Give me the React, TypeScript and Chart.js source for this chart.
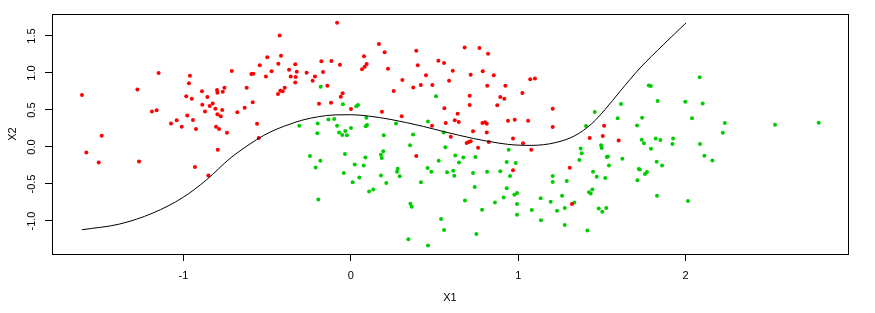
import React, { useEffect, useRef } from "react";
import { Chart, registerables } from "chart.js";

Chart.register(...registerables);

// Class 1 (red) observations
const redX = [
  -1.606, -1.148, -1.275, -1.188, -1.160, -1.074, -1.040, -1.488, -1.580, -1.506, -1.265,
  -0.425, -0.417, -0.499, -0.433, -0.544, -0.711, -0.369, -0.473, -0.507, -0.961, -0.967,
  -0.594, -0.582, -0.622, -0.755, -0.799, -0.797, -0.765, -0.889, -0.983, -0.950, -0.857,
  -0.395, -0.421, -0.407, -0.435, -0.887, -0.825, -0.843, -0.809, -0.768, -0.871, -0.797,
  -0.777, -0.586, -0.634, -0.678, -0.977, -0.943, -1.010, -0.925, -0.805, -0.787, -0.740,
  -0.560, -0.550, -0.795, -0.931, -0.851,
  -0.082, 0.168, 0.202, 0.079, 0.095, 0.083, 0.067, 0.222, -0.176, -0.116, -0.065, -0.332,
  -0.323, -0.359, -0.329, -0.332, -0.264, -0.214, -0.228, -0.166, -0.140, -0.049, -0.060,
  -0.118, -0.190, 0.001, 0.186, 0.256,
  0.391, 0.680, 0.768, 0.820, 0.523, 0.557, 0.400, 0.609, 0.716, 0.788, 0.854, 0.308,
  0.449, 0.418, 0.487, 0.373, 0.587, 0.815, 0.710, 0.710, 0.875, 0.559, 0.638, 0.304,
  0.567, 0.485, 0.621, 0.645, 0.786, 0.802, 0.812, 0.730, 0.812, 0.597, 0.716, 0.704,
  0.692, 0.824, 0.760, 0.391,
  1.072, 1.100, 0.923, 0.893, 0.917, 1.025, 1.206, 0.939, 0.979, 1.059, 1.206, 0.969,
  1.029, 1.078, 0.969, 1.308, 1.321, 1.427,
  1.513, 1.505, 1.600,
];
const redY = [
  0.703, 1.000, 0.778, 0.481, 0.495, 0.319, 0.360, 0.153, -0.073, -0.208, -0.195,
  1.508, 1.234, 1.211, 1.126, 1.103, 1.027, 1.045, 1.022, 0.954, 0.964, 0.860,
  0.986, 0.991, 0.801, 0.801, 0.770, 0.734, 0.747, 0.752, 0.684, 0.653, 0.676,
  0.801, 0.761, 0.752, 0.716, 0.572, 0.589, 0.554, 0.518, 0.500, 0.481, 0.441,
  0.414, 0.603, 0.531, 0.468, 0.427, 0.365, 0.274, 0.243, 0.274, 0.243, 0.193,
  0.315, 0.122, -0.036, -0.270, -0.384,
  1.680, 1.392, 1.279, 1.225, 1.121, 1.085, 1.049, 1.058, 1.157, 1.162, 1.112, 1.117,
  1.018, 0.954, 0.946, 0.873, 1.004, 0.954, 0.896, 1.014, 0.828, 0.725, 0.680,
  0.599, 0.585, 0.514, 0.477, 0.757,
  1.301, 1.346, 1.338, 1.261, 1.166, 1.135, 1.103, 1.031, 0.977, 1.022, 0.968, 0.905,
  0.968, 0.838, 0.838, 0.805, 0.896, 0.828, 0.693, 0.567, 0.563, 0.522, 0.450, 0.414,
  0.324, 0.288, 0.360, 0.338, 0.324, 0.333, 0.315, 0.211, 0.197, 0.139, 0.076, 0.068,
  0.054, 0.068, -0.009, -0.122,
  0.914, 0.927, 0.828, 0.676, 0.653, 0.730, 0.518, 0.355, 0.369, 0.355, 0.270, 0.116,
  0.049, -0.036, -0.316, -0.280, -0.770, 0.122,
  0.288, 0.149, 0.089,
];

// Class 2 (green) observations
const greenX = [
  -0.180, -0.047, 0.033, 0.043, 0.093, 0.097, 0.089, 0.197, -0.308, -0.198, -0.134, -0.099,
  -0.082, -0.200, -0.070, -0.033, 0.001, -0.051, -0.023, -0.244, -0.182, -0.210, -0.035,
  0.023, 0.077, 0.087, 0.194, 0.180, 0.185, -0.042, 0.051, 0.011, 0.180, 0.212, 0.134,
  0.109, -0.194,
  0.509, 0.270, 0.461, 0.555, 0.372, 0.354, 0.565, 0.525, 0.624, 0.672, 0.646, 0.744,
  0.459, 0.481, 0.575, 0.612, 0.618, 0.730, 0.814, 0.280, 0.276, 0.292, 0.419, 0.740,
  0.682, 0.784, 0.861, 0.356, 0.364, 0.539, 0.557, 0.750, 0.344, 0.461,
  1.457, 1.405, 0.943, 1.373, 1.379, 1.365, 0.931, 0.985, 0.893, 0.951, 1.206, 1.206,
  1.290, 1.447, 1.469, 0.931, 1.443, 1.423, 1.433, 0.993, 0.977, 0.913, 1.262, 1.134,
  1.194, 1.335, 0.993, 1.081, 1.232, 1.278, 1.481, 0.993, 1.136, 1.278, 1.413,
  2.084, 1.780, 1.792, 1.614, 1.833, 1.998, 2.102, 1.594, 1.740, 2.038, 1.710, 1.495,
  1.499, 1.738, 1.751, 1.821, 1.849, 1.925, 1.921, 1.793, 2.086, 2.112, 1.529, 1.536,
  1.622, 1.542, 1.827, 1.859, 1.720, 1.726, 1.769, 1.757, 1.712, 1.520, 1.829, 2.014,
  1.526, 1.502,
  2.234, 2.222, 2.534, 2.795, 2.160,
];
const greenY = [
  0.815, 0.576, 0.549, 0.567, 0.396, 0.297, 0.279, 0.157, 0.288, 0.319, 0.373, 0.378,
  0.288, 0.184, 0.197, 0.216, 0.257, 0.162, 0.157, -0.122, -0.185, -0.276, -0.095,
  -0.235, -0.249, -0.141, -0.059, -0.104, -0.149, -0.351, -0.411, -0.478, -0.384, -0.487, -0.573,
  -0.600, -0.708,
  0.684, 0.319, 0.346, 0.197, 0.170, 0.022, -0.005, -0.185, -0.114, -0.141, -0.208, -0.135,
  -0.284, -0.334, -0.343, -0.320, -0.388, -0.351, -0.334, -0.293, -0.334, -0.397, -0.478, -0.541,
  -0.722, -0.847, -0.749, -0.766, -0.807, -0.973, -1.122, -1.176, -1.248, -1.330,
  0.473, 0.284, -0.036, -0.019, -0.086, -0.176, -0.203, -0.216, -0.329, -0.392, -0.392, -0.473,
  -0.459, -0.334, -0.401, -0.559, -0.573, -0.613, -0.627, -0.622, -0.645, -0.681, -0.658, -0.694,
  -0.739, -0.749, -0.770, -0.851, -0.861, -0.824, -0.830, -0.915, -0.991, -1.054, -1.127,
  0.941, 0.832, 0.824, 0.581, 0.622, 0.612, 0.589, 0.387, 0.396, 0.387, 0.292, 0.022,
  -0.014, 0.099, 0.049, 0.116, 0.094, 0.116, 0.040, -0.023, 0.040, -0.118, -0.135, -0.127,
  -0.158, -0.249, -0.199, -0.249, -0.297, -0.303, -0.338, -0.365, -0.451, -0.419, -0.658, -0.730,
  -0.824, -0.874,
  0.324, 0.193, 0.301, 0.328, -0.181,
];

// Decision boundary
const curveX = [
  -1.606, -1.381, -1.182, -1.002, -0.861, -0.722, -0.602, -0.523, -0.443, -0.363, -0.293,
  -0.194, -0.094, 0.005, 0.105, 0.234, 0.433, 0.553, 0.732, 0.891, 0.981, 1.081, 1.220,
  1.339, 1.439, 1.519, 1.608, 1.728, 1.867, 2.002,
];
const curveY = [
  -1.118, -1.041, -0.892, -0.681, -0.442, -0.155, 0.041, 0.153, 0.241, 0.309, 0.361,
  0.409, 0.434, 0.436, 0.418, 0.374, 0.278, 0.209, 0.115, 0.050, 0.027, 0.022, 0.058,
  0.153, 0.315, 0.507, 0.751, 1.068, 1.382, 1.676,
];

const xTicks = [-1, 0, 1, 2];
const xTickLabels = ["-1", "0", "1", "2"];
const yTicks = [-1, -0.5, 0, 0.5, 1, 1.5];
const yTickLabels = ["-1.0", "-0.5", "0.0", "0.5", "1.0", "1.5"];

const FONT = { family: "'Liberation Sans', Arial, Helvetica, sans-serif", size: 11 };

export default function App() {
  const ref = useRef<HTMLCanvasElement | null>(null);

  useEffect(() => {
    document.body.style.margin = "0";
    const canvas = ref.current;
    if (!canvas) return;

    const boxPlugin = {
      id: "rbox",
      afterDraw(chart: any) {
        const { ctx, chartArea } = chart;
        const { left, top, right, bottom } = chartArea;
        ctx.save();
        ctx.strokeStyle = "#000";
        ctx.lineWidth = 1;
        ctx.strokeRect(Math.round(left) + 0.5, Math.round(top) + 0.5, Math.round(right - left), Math.round(bottom - top));
        ctx.restore();
      },
    };

    const chart = new Chart(canvas, {
      type: "scatter",
      data: {
        datasets: [
          {
            label: "boundary",
            data: curveX.map((x, i) => ({ x, y: curveY[i] })),
            showLine: true,
            borderColor: "#000000",
            borderWidth: 1,
            pointRadius: 0,
            cubicInterpolationMode: "monotone",
            fill: false,
          } as any,
          {
            label: "red",
            data: redX.map((x, i) => ({ x, y: redY[i] })),
            backgroundColor: "#FF0000",
            borderWidth: 0,
            pointRadius: 2,
          },
          {
            label: "green",
            data: greenX.map((x, i) => ({ x, y: greenY[i] })),
            backgroundColor: "#00CD00",
            borderWidth: 0,
            pointRadius: 2,
          },
        ],
      },
      options: {
        responsive: false,
        animation: false,
        devicePixelRatio: 1,
        layout: { padding: { left: 0, right: 27, top: 14, bottom: 0 } },
        plugins: { legend: { display: false }, tooltip: { enabled: false } },
        scales: {
          x: {
            type: "linear",
            min: -1.785,
            max: 2.97,
            afterBuildTicks: (s: any) => {
              s.ticks = xTicks.map((v) => ({ value: v }));
            },
            afterFit: (s: any) => {
              s.height = 59;
            },
            grid: { drawOnChartArea: false, drawTicks: true, tickLength: 7, color: "#000", lineWidth: 1 },
            border: { display: false },
            ticks: {
              font: FONT,
              color: "#000",
              padding: 8,
              maxRotation: 0,
              autoSkip: false,
              callback: (v: any) => xTickLabels[xTicks.indexOf(Number(v))] ?? "",
            },
            title: { display: true, text: "X1", font: FONT, color: "#000", padding: { top: 0, bottom: 8 } },
          },
          y: {
            type: "linear",
            min: -1.446,
            max: 1.797,
            afterBuildTicks: (s: any) => {
              s.ticks = yTicks.map((v) => ({ value: v }));
            },
            afterFit: (s: any) => {
              s.width = 52;
            },
            grid: { drawOnChartArea: false, drawTicks: true, tickLength: 7, color: "#000", lineWidth: 1 },
            border: { display: false },
            ticks: {
              font: FONT,
              color: "#000",
              padding: 3.5,
              minRotation: 90,
              maxRotation: 90,
              crossAlign: "center",
              autoSkip: false,
              callback: (v: any) => yTickLabels[yTicks.indexOf(Number(v))] ?? "",
            },
            title: { display: true, text: "X2", font: FONT, color: "#000", padding: { top: 6.5, bottom: 0 } },
          },
        },
      },
      plugins: [boxPlugin],
    });

    return () => chart.destroy();
  }, []);

  return (
    <div style={{ position: "absolute", left: 0, top: 0, width: 875, height: 313, background: "#fff" }}>
      <canvas ref={ref} width={875} height={313} style={{ display: "block", width: 875, height: 313 }} />
    </div>
  );
}
